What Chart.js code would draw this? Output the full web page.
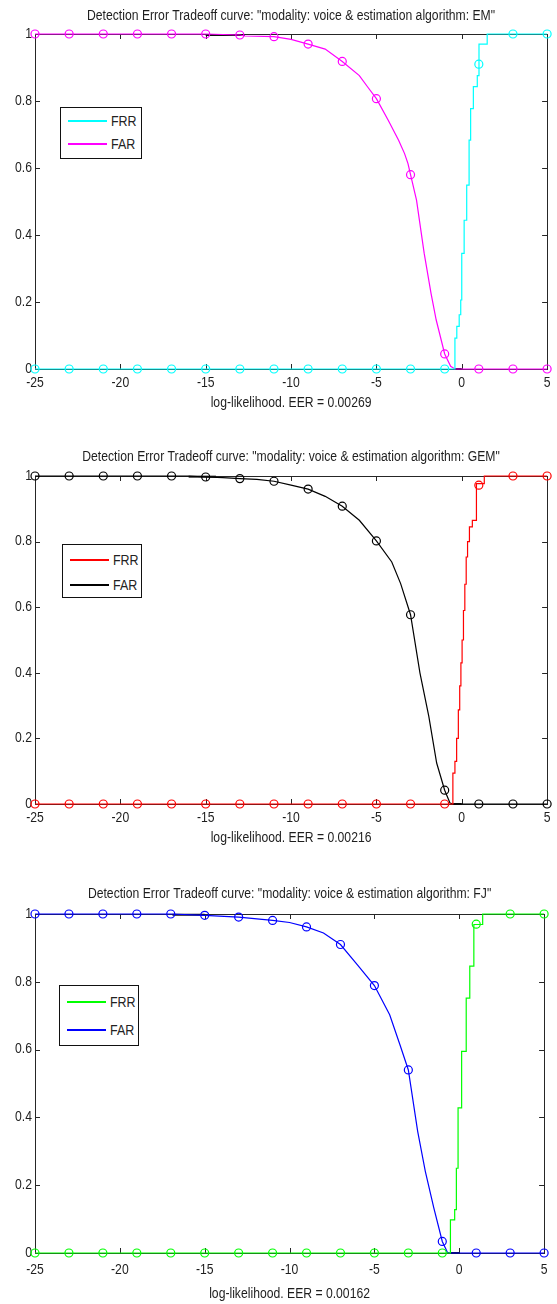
<!DOCTYPE html>
<html>
<head>
<meta charset="utf-8">
<script src="https://cdn.jsdelivr.net/npm/chart.js@4.4.1/dist/chart.umd.min.js"></script>
<style>
html,body{margin:0;padding:0;background:#fff;width:557px;height:1304px;overflow:hidden;position:relative;}
.wrap{position:absolute;left:0;width:557px;}
.legend{position:absolute;background:#fff;border:1.5px solid #111;box-sizing:border-box;font-family:'Liberation Sans Narrow','Arial Narrow','Liberation Sans',sans-serif;font-size:15px;color:#222;}
.legend .row{position:absolute;left:0;height:18px;line-height:18px;white-space:nowrap;}
.legend .ln{position:absolute;left:7px;top:8px;width:39px;height:2px;}
.legend .tx{position:absolute;left:50px;top:0;display:inline-block;transform:scaleX(0.83);transform-origin:0 50%;}
</style>
</head>
<body>
<div class="wrap" id="w1" style="top:0px"><canvas id="c1"></canvas></div>
<div class="wrap" id="w2" style="top:440px"><canvas id="c2"></canvas></div>
<div class="wrap" id="w3" style="top:876px"><canvas id="c3"></canvas></div>
<script>
// ---------- tick labels ----------
const X_TICKS = [-25, -20, -15, -10, -5, 0, 5];
const Y_TICKS = [0, 0.2, 0.4, 0.6, 0.8, 1];
const SERIES_NAMES = ['FRR', 'FAR'];
const MARK_X = [-25, -23, -21, -19, -17, -15, -13, -11, -9, -7, -5, -3, -1, 1, 3, 5];

// ---------- EM ----------
const EM_FRR_X = [-25, -0.40, -0.29, -0.15, -0.06, 0.0, 0.14, 0.29, 0.43, 0.52, 0.68, 0.91, 1.01, 1.49, 5];
const EM_FRR_Y = [0, 0.092, 0.127, 0.162, 0.206, 0.345, 0.444, 0.549, 0.683, 0.777, 0.843, 0.876, 0.97, 1.0, 1.0];
const EM_FAR_X = [-25, -15, -13, -12.7, -11, -10, -9, -8, -7, -6, -5.5, -5, -4.3, -3.7, -3.35, -3.15, -3, -2.65, -2.2, -1.8, -1.5, -1, -0.65, -0.4, 5];
const EM_FAR_Y = [1, 1, 0.997, 0.994, 0.992, 0.984, 0.97, 0.955, 0.918, 0.876, 0.841, 0.807, 0.742, 0.683, 0.643, 0.613, 0.58, 0.504, 0.345, 0.226, 0.147, 0.045, 0.008, 0, 0];
const EM_FRR_MARK = [0, 0, 0, 0, 0, 0, 0, 0, 0, 0, 0, 0, 0, 0.91, 1, 1];
const EM_FAR_MARK = [1, 1, 1, 1, 1, 1, 0.997, 0.992, 0.97, 0.918, 0.807, 0.58, 0.045, 0, 0, 0];
const EM_TOPSEG_X = [-15, -12.7];
const EM_TOPSEG_Y = [0.997, 0.997];
const EM_BOTSEG_X = [-0.45, 0];
const EM_BOTSEG_Y = [0, 0];

// ---------- GEM ----------
const GEM_FRR_X = [-25, -0.52, -0.4, -0.3, -0.2, -0.12, -0.05, 0.02, 0.1, 0.18, 0.26, 0.34, 0.45, 0.62, 0.86, 1.32, 5];
const GEM_FRR_Y = [0, 0.094, 0.13, 0.2, 0.287, 0.36, 0.43, 0.5, 0.59, 0.67, 0.753, 0.8, 0.845, 0.865, 0.977, 1, 1];
const GEM_FAR_X = [-25, -16, -15, -14, -13, -12, -11, -10, -9, -8, -7, -6, -5, -4.1, -3.58, -3, -2.45, -1.93, -1.47, -1, -0.69, -0.5, 5];
const GEM_FAR_Y = [1, 1, 0.997, 0.995, 0.992, 0.99, 0.984, 0.972, 0.96, 0.938, 0.908, 0.865, 0.802, 0.738, 0.672, 0.577, 0.4, 0.267, 0.125, 0.042, 0.003, 0, 0];
const GEM_FRR_MARK = [0, 0, 0, 0, 0, 0, 0, 0, 0, 0, 0, 0, 0, 0.972, 1, 1];
const GEM_FAR_MARK = [1, 1, 1, 1, 1, 0.997, 0.992, 0.984, 0.96, 0.908, 0.802, 0.577, 0.042, 0, 0, 0];
const GEM_TOPSEG_X = [-16, -14.4];
const GEM_TOPSEG_Y = [0.998, 0.998];
const GEM_BOTSEG_X = [-0.5, 0];
const GEM_BOTSEG_Y = [0, 0];

// ---------- FJ ----------
const FJ_FRR_X = [-25, -0.52, -0.27, -0.17, -0.07, 0.14, 0.41, 0.62, 0.86, 1.38, 5];
const FJ_FRR_Y = [0, 0.098, 0.128, 0.25, 0.428, 0.595, 0.752, 0.846, 0.969, 1, 1];
const FJ_FAR_X = [-25, -17, -15, -13, -11, -10, -9, -8, -7, -6, -5, -4.1, -3.5, -3, -2.45, -2, -1.5, -1, -0.7, -0.5, 5];
const FJ_FAR_Y = [1, 1, 0.996, 0.991, 0.981, 0.975, 0.962, 0.944, 0.91, 0.85, 0.789, 0.703, 0.615, 0.54, 0.359, 0.241, 0.133, 0.034, 0.002, 0, 0];
const FJ_FRR_MARK = [0, 0, 0, 0, 0, 0, 0, 0, 0, 0, 0, 0, 0, 0.97, 1, 1];
const FJ_FAR_MARK = [1, 1, 1, 1, 1, 0.996, 0.991, 0.981, 0.962, 0.91, 0.789, 0.54, 0.034, 0, 0, 0];
const FJ_TOPSEG_X = [-16.9, -15];
const FJ_TOPSEG_Y = [0.998, 0.998];
const FJ_BOTSEG_X = [-0.54, 0.04];
const FJ_BOTSEG_Y = [0, 0];

const TITLES = [
  'Detection Error Tradeoff curve: "modality: voice & estimation algorithm: EM"',
  'Detection Error Tradeoff curve: "modality: voice & estimation algorithm: GEM"',
  'Detection Error Tradeoff curve: "modality: voice & estimation algorithm: FJ"'
];
const XLABELS = ['log-likelihood. EER = 0.00269', 'log-likelihood. EER = 0.00216', 'log-likelihood. EER = 0.00162'];

const FONT = "'Liberation Sans Narrow','Arial Narrow','Liberation Sans',sans-serif";
const TXT = '#1e1e1e';
const TEXT_SX = 0.87; // horizontal condensing of the canvas text (narrow face look)

function pts(xs, ys) { return xs.map((x, i) => ({x: x, y: ys[i]})); }

function condenseText(ctx) {
  const orig = ctx.fillText.bind(ctx);
  ctx.fillText = function (t, x, y, mw) {
    ctx.save();
    ctx.translate(x, y);
    ctx.scale(TEXT_SX, 1);
    if (mw !== undefined && mw !== null) orig(t, 0, 0, mw / TEXT_SX); else orig(t, 0, 0);
    ctx.restore();
  };
}

const framePlugin = {
  id: 'frame',
  beforeDatasetsDraw(chart) {
    const {ctx, chartArea: a, scales: {x, y}} = chart;
    ctx.save();
    ctx.strokeStyle = '#262626';
    ctx.lineWidth = 1;
    ctx.strokeRect(Math.round(a.left) + 0.5, Math.round(a.top) + 0.5, Math.round(a.right - a.left), Math.round(a.bottom - a.top));
    ctx.beginPath();
    const L = 5;
    X_TICKS.forEach(v => {
      const px = Math.round(x.getPixelForValue(v)) + 0.5;
      ctx.moveTo(px, a.bottom); ctx.lineTo(px, a.bottom - L);
      ctx.moveTo(px, a.top); ctx.lineTo(px, a.top + L);
    });
    Y_TICKS.forEach(v => {
      const py = Math.round(y.getPixelForValue(v)) + 0.5;
      ctx.moveTo(a.left, py); ctx.lineTo(a.left + L, py);
      ctx.moveTo(a.right, py); ctx.lineTo(a.right - L, py);
    });
    ctx.stroke();
    ctx.restore();
  }
};

function makeChart(id, cfg) {
  const canvas = document.getElementById(id);
  const H = cfg.plotBottom + cfg.xH;
  canvas.width = 557; canvas.height = H;
  canvas.style.width = '557px'; canvas.style.height = H + 'px';
  condenseText(canvas.getContext('2d'));
  const LH = 14 * 1.2;
  const padTop = cfg.titleC - LH / 2;
  const padBottom = cfg.plotTop - padTop - LH;
  const lineDs = (xs, ys, color, stepped) => ({
    data: pts(xs, ys), borderColor: color, borderWidth: 1.2, pointRadius: 0,
    stepped: stepped, fill: false, clip: false, tension: 0
  });
  const markDs = (ys, color) => ({
    data: pts(MARK_X, ys), borderColor: color, backgroundColor: 'rgba(0,0,0,0)',
    showLine: false, pointRadius: 4, pointBorderWidth: 1.2, pointStyle: 'circle',
    pointBorderColor: color, pointBackgroundColor: 'rgba(0,0,0,0)', clip: false
  });
  return new Chart(canvas, {
    type: 'line',
    data: {
      datasets: [
        lineDs(cfg.frrX, cfg.frrY, cfg.frrColor, true),
        markDs(cfg.frrMark, cfg.frrColor),
        lineDs(cfg.farX, cfg.farY, cfg.farColor, false),
        markDs(cfg.farMark, cfg.farColor),
        Object.assign(lineDs(cfg.topX, cfg.topY, '#111', false), {borderWidth: 2}),
        Object.assign(lineDs(cfg.botX, cfg.botY, '#111', false), {borderWidth: 2})
      ]
    },
    options: {
      responsive: false, animation: false, devicePixelRatio: 1,
      layout: {padding: {left: 0, right: 6, top: 0, bottom: 0}},
      plugins: {
        legend: {display: false}, tooltip: {enabled: false},
        title: {display: true, fullSize: false, text: cfg.title, color: TXT,
          font: {family: FONT, size: 14, weight: 'normal', lineHeight: 1.2},
          padding: {top: padTop, bottom: padBottom}}
      },
      scales: {
        x: {
          type: 'linear', min: -25, max: 5,
          afterBuildTicks: s => { s.ticks = X_TICKS.map(v => ({value: v})); },
          afterFit: s => { s.height = cfg.xH; },
          grid: {display: false, drawTicks: false}, border: {display: false},
          ticks: {color: TXT, font: {family: FONT, size: 14, lineHeight: 1.2}, padding: cfg.tickPad, maxRotation: 0, autoSkip: false,
            callback: v => String(v)},
          title: {display: true, text: cfg.xlabel, color: TXT, font: {family: FONT, size: 14, lineHeight: 1.2},
            padding: {top: 0, bottom: cfg.xH - cfg.xlabelOff - LH / 2}}
        },
        y: {
          type: 'linear', min: 0, max: 1,
          afterBuildTicks: s => { s.ticks = Y_TICKS.map(v => ({value: v})); },
          afterFit: s => { s.width = 35; },
          grid: {display: false, drawTicks: false}, border: {display: false},
          ticks: {color: TXT, font: {family: FONT, size: 14, lineHeight: 1.2}, padding: 3,
            callback: v => String(+(+v).toFixed(1))}
        }
      }
    },
    plugins: [framePlugin]
  });
}

function makeLegend(left, top, w, h, rows, colors) {
  const d = document.createElement('div');
  d.className = 'legend';
  d.style.left = left + 'px'; d.style.top = top + 'px';
  d.style.width = w + 'px'; d.style.height = h + 'px';
  rows.forEach((cy, i) => {
    const r = document.createElement('div');
    r.className = 'row';
    r.style.top = (cy - 9 - 1.5) + 'px';
    r.style.width = w + 'px';
    const ln = document.createElement('span'); ln.className = 'ln'; ln.style.background = colors[i];
    const tx = document.createElement('span'); tx.className = 'tx'; tx.textContent = SERIES_NAMES[i];
    r.appendChild(ln); r.appendChild(tx);
    d.appendChild(r);
  });
  document.body.appendChild(d);
}

makeChart('c1', {
  title: TITLES[0], xlabel: XLABELS[0], titleC: 15.7, plotTop: 34, plotBottom: 369, xH: 48, tickPad: 6, xlabelOff: 34,
  frrX: EM_FRR_X, frrY: EM_FRR_Y, farX: EM_FAR_X, farY: EM_FAR_Y, frrMark: EM_FRR_MARK, farMark: EM_FAR_MARK,
  topX: EM_TOPSEG_X, topY: EM_TOPSEG_Y, botX: EM_BOTSEG_X, botY: EM_BOTSEG_Y,
  frrColor: '#00ffff', farColor: '#ff00ff'
});
makeChart('c2', {
  title: TITLES[1], xlabel: XLABELS[1], titleC: 17, plotTop: 36, plotBottom: 364, xH: 48, tickPad: 6, xlabelOff: 34,
  frrX: GEM_FRR_X, frrY: GEM_FRR_Y, farX: GEM_FAR_X, farY: GEM_FAR_Y, frrMark: GEM_FRR_MARK, farMark: GEM_FAR_MARK,
  topX: GEM_TOPSEG_X, topY: GEM_TOPSEG_Y, botX: GEM_BOTSEG_X, botY: GEM_BOTSEG_Y,
  frrColor: '#ff0000', farColor: '#000000'
});
makeChart('c3', {
  title: TITLES[2], xlabel: XLABELS[2], titleC: 18, plotTop: 38, plotBottom: 377, xH: 50, tickPad: 9, xlabelOff: 41,
  frrX: FJ_FRR_X, frrY: FJ_FRR_Y, farX: FJ_FAR_X, farY: FJ_FAR_Y, frrMark: FJ_FRR_MARK, farMark: FJ_FAR_MARK,
  topX: FJ_TOPSEG_X, topY: FJ_TOPSEG_Y, botX: FJ_BOTSEG_X, botY: FJ_BOTSEG_Y,
  frrColor: '#00ff00', farColor: '#0000ff'
});

makeLegend(60, 107, 82, 52, [121.7 - 107, 144 - 107], ['#00ffff', '#ff00ff']);
makeLegend(62, 544, 80, 54, [560 - 544, 585 - 544], ['#ff0000', '#000000']);
makeLegend(59, 985, 80, 61, [1002.7 - 985, 1030 - 985], ['#00ff00', '#0000ff']);
</script>
</body>
</html>
